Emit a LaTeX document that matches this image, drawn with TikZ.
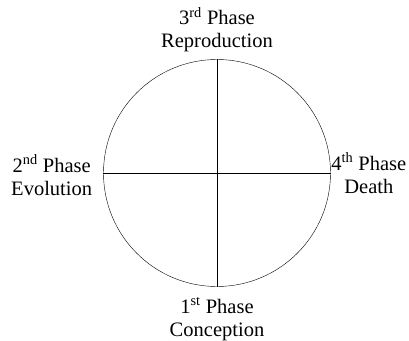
\documentclass[tikz,border=0pt]{standalone}
\usepackage{fontspec}
\setmainfont{Liberation Serif}
\usetikzlibrary{positioning}

\begin{document}
\begin{tikzpicture}[x=1pt,y=-1pt,
  phase/.style={align=center, inner sep=0pt, font=\fontsize{20.5}{23}\selectfont}]
\useasboundingbox (0,0) rectangle (409,340);
% the cycle
\node[circle, draw, minimum size=227pt, inner sep=0pt] (cycle) at (217,173) {};
\draw (cycle.north) -- (cycle.south);
\draw (cycle.west) -- (cycle.east);
% the four phases
\node[phase, above=7pt of cycle.north] (third) {3\textsuperscript{rd} Phase\\Reproduction};
\node[phase, left=11pt of cycle.west, yshift=-2pt] (second) {2\textsuperscript{nd} Phase\\Evolution};
\node[phase, right=0.5pt of cycle.east] (fourth) {4\textsuperscript{th} Phase\\Death};
\node[phase, below=11pt of cycle.south] (first) {1\textsuperscript{st} Phase\\Conception};
\end{tikzpicture}
\end{document}
